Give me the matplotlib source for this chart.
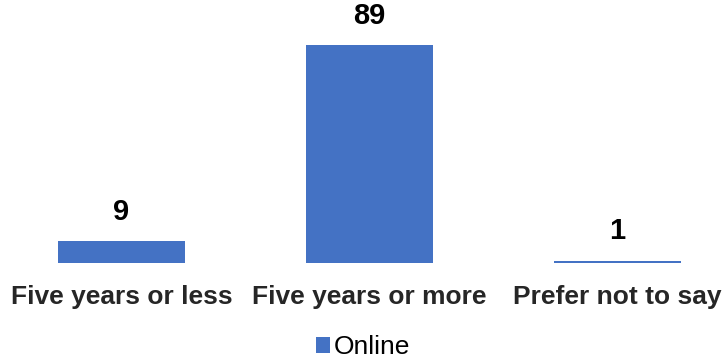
import matplotlib
matplotlib.use("Agg")
import matplotlib.pyplot as plt

categories = ["Five years or less", "Five years or more", "Prefer not to say"]
online = [9, 89, 1]

plt.rcParams['font.family'] = ['Liberation Sans', 'DejaVu Sans']

fig = plt.figure(figsize=(7.25, 3.59), dpi=100)
ax = fig.add_axes([0, 96 / 359, 1, 263 / 359])

x = list(range(len(categories)))
bars = ax.bar(x, online, width=0.512, color="#4472C4", label="Online")
ax.bar_label(bars, labels=[str(v) for v in online], padding=11,
             fontsize=21, fontweight="bold", color="black")

ax.set_xlim(-0.49, 2.434)
ax.set_ylim(0, 107.3)
ax.set_xticks(x)
ax.set_xticklabels(categories, fontsize=19, fontweight="bold", color="#262626")
ax.tick_params(axis="x", length=0, pad=16)
ax.set_yticks([])
for s in ax.spines.values():
    s.set_visible(False)

fig.legend(loc="center", bbox_to_anchor=(363 / 725, 12 / 359), frameon=False,
           fontsize=19, handlelength=0.55, handleheight=0.55, handletextpad=0.15)

fig.savefig("out.png", dpi=100)
